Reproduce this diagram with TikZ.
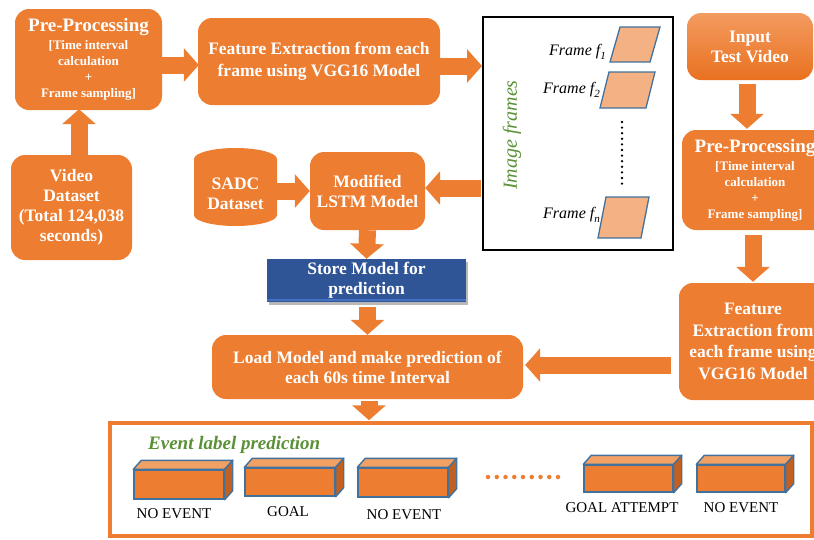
\documentclass[tikz,border=0pt]{standalone}
\usepackage{fontspec}
\setmainfont{Liberation Serif}
\usetikzlibrary{arrows.meta,shadows,calc}
\definecolor{org}{HTML}{ED7D31}
\definecolor{orgtop}{HTML}{F2A165}
\definecolor{orgside}{HTML}{C4601F}
\definecolor{frfill}{HTML}{F4B183}
\definecolor{cblue}{HTML}{41719C}
\definecolor{sblue}{HTML}{2F5597}
\definecolor{sblue2}{HTML}{4472C4}
\definecolor{grn}{HTML}{5A9136}
\definecolor{intop}{HTML}{F39B60}
\definecolor{inbot}{HTML}{E9711F}
\tikzset{
  obox/.style={fill=org, rounded corners=14pt, text=white, align=center, inner sep=2pt,
    font=\bfseries\fontsize{17.5}{20}\selectfont},
  barrow/.style={draw=org, line width=17pt, -{Triangle[width=33pt,length=15pt]}},
  cubefront/.style={draw=cblue, line width=1.4pt, fill=org, inner sep=0pt},
  evlbl/.style={font=\fontsize{15}{15}\selectfont, inner sep=0pt},
  frlbl/.style={font=\itshape\fontsize{16}{16}\selectfont, inner sep=0pt, anchor=base east},
  frshape/.style={draw=cblue, line width=1.3pt, fill=frfill},
}
\newcommand{\frsub}[1]{\raisebox{-4pt}{\fontsize{11}{11}\selectfont\itshape #1}}
\begin{document}
\begin{tikzpicture}[x=1pt,y=-1pt]
\useasboundingbox (0,0) rectangle (814,539);

% left column
\node[obox, minimum width=147pt, minimum height=101pt, font=\bfseries\fontsize{13}{16}\selectfont] (pp1) at (88.5,59.5)
  {{\fontsize{19}{21}\selectfont Pre-Processing}\\[2pt][Time interval\\calculation\\+\\Frame sampling]};
\node[obox, minimum width=242pt, minimum height=87pt, font=\bfseries\fontsize{17.5}{22}\selectfont] (fe1) at (319,61.5)
  {Feature Extraction from each\\frame using VGG16 Model};
\node[obox, minimum width=121pt, minimum height=105pt] (vd) at (71.5,207.5)
  {Video\\Dataset\\(Total 124,038\\seconds)};

% SADC cylinder
\fill[org] (194,159) arc[start angle=180, end angle=0, x radius=41.5pt, y radius=11pt]
  -- (277,215) arc[start angle=0, end angle=-180, x radius=41.5pt, y radius=11pt] -- cycle;
\node[text=white, align=center, font=\bfseries\fontsize{17.5}{20}\selectfont, minimum width=83pt, minimum height=70pt, inner sep=0pt] (sadc) at (235.5,194) {SADC\\Dataset};

\node[obox, minimum width=115pt, minimum height=78pt] (lstm) at (367.5,191) {Modified\\LSTM Model};
\node[fill=sblue, text=white, align=center, minimum width=199pt, minimum height=43pt, inner sep=0pt,
  font=\bfseries\fontsize{17.5}{20}\selectfont,
  drop shadow={shadow xshift=1.5pt, shadow yshift=-3pt, opacity=0.55}] (store) at (366.5,280.5)
  {Store Model for\\prediction};
\draw[sblue2, line width=2pt] ($(store.south west)+(0,-2)$) -- ($(store.south east)+(0,-2)$);
\node[obox, minimum width=311pt, minimum height=64pt, font=\bfseries\fontsize{17.5}{20}\selectfont] (load) at (367.5,367)
  {Load Model and make prediction of\\each 60s time Interval};

% image frames box
\node[draw=black, line width=2pt, minimum width=190pt, minimum height=233pt, inner sep=0pt] (frames) at (578,133.5) {};
\node[rotate=90, text=grn, font=\itshape\fontsize{20}{20}\selectfont, inner sep=0pt] (imgfr) at (512,135) {Image frames};
\draw[frshape] (610,62) -- (650,62) -- (660,27) -- (620,27) -- cycle;
\draw[frshape] (600,108) -- (646,108) -- (655,72) -- (609,72) -- cycle;
\draw[frshape] (598,238) -- (641,238) -- (649,197) -- (606,197) -- cycle;
\node[frlbl] (f1) at (606,55) {Frame f\frsub{1}};
\node[frlbl] (f2) at (600,93) {Frame f\frsub{2}};
\node[frlbl] (fn) at (600,218) {Frame f\frsub{n}};
\draw[line width=2.6pt, line cap=round, dash pattern=on 0pt off 5.6pt] (622,122) -- (622,184);

% right column
\node[top color=intop, bottom color=inbot, rounded corners=14pt, text=white, align=center, inner sep=2pt,
  font=\bfseries\fontsize{17.5}{20}\selectfont, minimum width=126pt, minimum height=67pt] (input) at (750,46.5)
  {Input\\Test Video};
\node[obox, minimum width=146pt, minimum height=100pt, font=\bfseries\fontsize{13}{16}\selectfont] (pp2) at (755,180)
  {{\fontsize{19}{21}\selectfont Pre-Processing}\\[2pt][Time interval\\calculation\\+\\Frame sampling]};
\node[obox, minimum width=148pt, minimum height=117pt, font=\bfseries\fontsize{17.5}{21.5}\selectfont] (fe2) at (753,341.5)
  {Feature\\Extraction from\\each frame using\\VGG16 Model};

% event box
\node[draw=org, line width=3.5pt, minimum width=702pt, minimum height=113pt, inner sep=0pt] (ev) at (461,479.5) {};
\node[text=grn, font=\bfseries\itshape\fontsize{19}{19}\selectfont, anchor=base west, inner sep=0pt] (evt) at (148,449) {Event label prediction};

\node[cubefront, minimum width=90pt, minimum height=29pt] (c1) at (179,484.5) {};
\node[cubefront, minimum width=90pt, minimum height=28pt] (c2) at (290,482) {};
\node[cubefront, minimum width=90pt, minimum height=29pt] (c3) at (403,482.5) {};
\node[cubefront, minimum width=89pt, minimum height=27pt] (c4) at (628.5,478.5) {};
\node[cubefront, minimum width=88pt, minimum height=27pt] (c5) at (741,478.5) {};
\foreach \c in {c1,c2,c3,c4,c5}{
  \draw[cblue, line width=1.4pt, fill=orgtop, line join=round] (\c.north west) -- ++(8,-9) -- ($(\c.north east)+(8,-9)$) -- (\c.north east) -- cycle;
  \draw[cblue, line width=1.4pt, fill=orgside, line join=round] (\c.north east) -- ++(8,-9) -- ($(\c.south east)+(8,-9)$) -- (\c.south east) -- cycle;
}
\node[evlbl] (t1) at (174,514) {NO EVENT};
\node[evlbl] (t2) at (288,512) {GOAL};
\node[evlbl] (t3) at (404,515) {NO EVENT};
\node[evlbl] (t4) at (622,508) {GOAL ATTEMPT};
\node[evlbl] (t5) at (741,508) {NO EVENT};
\draw[org, line width=4.5pt, line cap=round, dash pattern=on 0pt off 8.75pt] (488,477) -- (559,477);

% arrows
\draw[barrow] ($(vd.north)+(7.5,0)$) -- ($(vd.north |- pp1.south)+(7.5,-1)$);
\draw[barrow] ($(pp1.east)+(0,5.5)$) -- ($(pp1.east -| fe1.west)+(1,5.5)$);
\draw[barrow] ($(fe1.east)+(0,4.5)$) -- ($(fe1.east -| frames.west)+(0,4.5)$);
\draw[barrow] ($(lstm.east -| frames.west)+(-1,-3)$) -- ($(lstm.east)+(0,-3)$);
\draw[barrow] (sadc.east |- lstm.west) -- (lstm.west);
\draw[barrow] (lstm.south) -- (store.north);
\draw[barrow] ($(load.north |- store.south)+(0,5)$) -- (load.north);
\draw[barrow] ($(input.south)+(-3,4)$) -- ($(input.south |- pp2.north)+(-3,-1)$);
\draw[barrow] ($(pp2.south)+(-2,5)$) -- ($(pp2.south |- fe2.north)+(-2,-1)$);
\draw[barrow] ($(load.east -| fe2.west)+(-8,-2)$) -- ($(load.east)+(2,-2)$);
\draw[barrow] ($(load.south)+(1.5,2)$) -- ($(load.south |- ev.north)+(1.5,-1)$);
\end{tikzpicture}
\end{document}
